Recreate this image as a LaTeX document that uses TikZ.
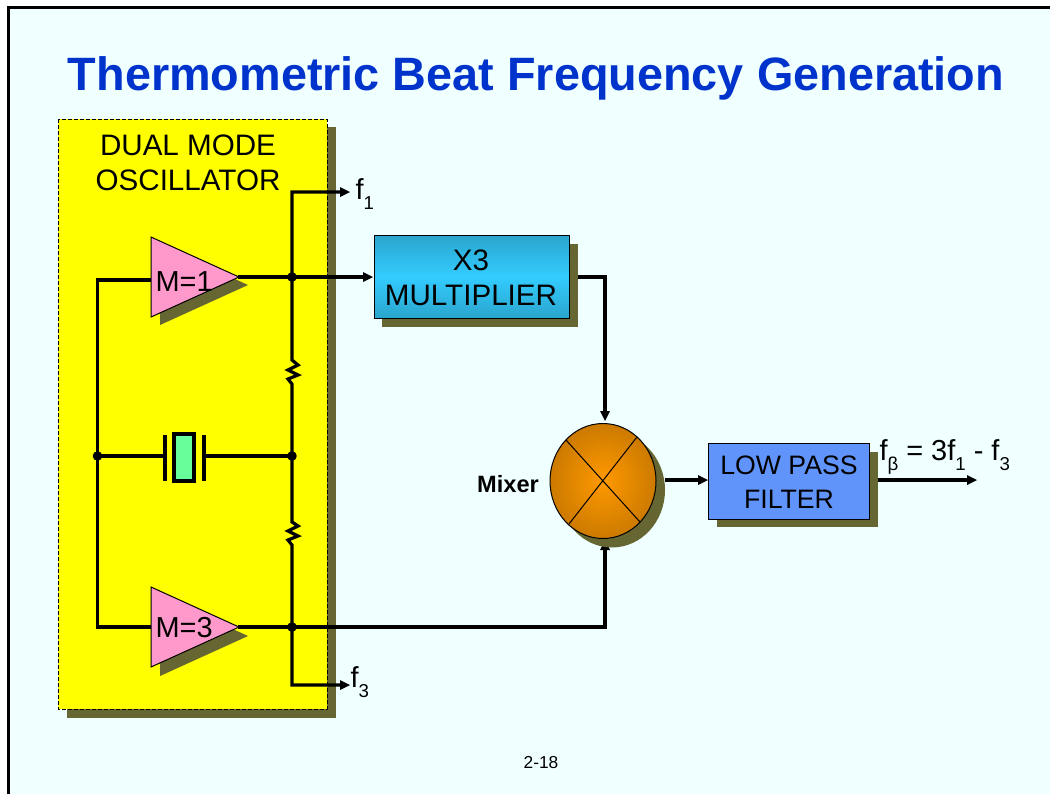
\documentclass[tikz,border=0pt]{standalone}
\usepackage{fontspec}
\setmainfont{Liberation Sans}
\usetikzlibrary{shadings}
\definecolor{pagebg}{RGB}{240,255,255}
\definecolor{titleblue}{RGB}{0,51,204}
\definecolor{shadowcol}{RGB}{102,102,51}
\definecolor{panelyellow}{RGB}{255,255,0}
\definecolor{ampink}{RGB}{255,153,204}
\definecolor{crystalgreen}{RGB}{102,255,153}
\definecolor{filterblue}{RGB}{97,148,250}
\definecolor{multedge}{RGB}{42,165,205}
\definecolor{multmid}{RGB}{51,204,255}
\definecolor{mixeredge}{RGB}{204,122,0}
\definecolor{mixermid}{RGB}{255,153,0}
\tikzset{every picture/.style={line width=0.75pt}}
\tikzset{
  wire/.style={line width=2.4pt},
  lbl/.style={inner sep=0pt,font=\fontsize{21.7}{21.7}\selectfont,text=black},
  blocklbl/.style={inner sep=0pt,font=\fontsize{22.2}{26.2}\selectfont,align=center,text=black},
  filterlbl/.style={inner sep=0pt,font=\fontsize{20}{25.5}\selectfont,align=center,text=black},
  dotnode/.style={circle,fill=black,inner sep=0pt,minimum size=7.2pt},
}
% filled arrow head, tip at #1, direction #2
\newcommand{\headat}[2]{\fill [shift={(#1)},rotate=#2] (0,0) -- (-10,-5) -- (-10,5) -- cycle;}
\newcommand{\subtxt}[1]{\raisebox{-0.62ex}{\fontsize{14}{14}\selectfont #1}}
\begin{document}
\begin{tikzpicture}[x=0.75pt,y=0.75pt,yscale=-1,xscale=1]
	\useasboundingbox (0,0) rectangle (1050,793);
	%page
	\fill [white] (0,0) rectangle (1050,793);
	\draw [fill=pagebg,line width=2.2pt] (8.5,7.5) -- (1056,7.5) -- (1056,800) -- (8.5,800) -- cycle;
	\node (title) [inner sep=0pt,text=titleblue,font=\bfseries\fontsize{35.1}{35.1}\selectfont] at (536,78) {Thermometric Beat Frequency Generation};
	\node (pagenum) [inner sep=0pt,font=\fontsize{13}{13}\selectfont] at (541,763) {2-18};

	%oscillator panel
	\fill [shadowcol] (67,127) rectangle (336,718);
	\draw [fill=panelyellow,dash pattern=on 3pt off 1.5pt,line width=0.6pt] (58,119) rectangle (327,709);
	\node (osclabel) [blocklbl,anchor=center] at (188,163) {DUAL MODE\\OSCILLATOR};

	%wires
	\coordinate (topout) at (342,192);
	\coordinate (botout) at (342,685);
	\coordinate (nodeA) at (292,277);
	\coordinate (nodeB) at (292,456);
	\coordinate (nodeC) at (292,627);
	\coordinate (nodeL) at (97.5,456);
	\draw [wire] (topout) -- (292,192) -- (292,360) -- (298,365) -- (288,370) -- (298,375) -- (288,379) -- (292,384) -- (292,522) -- (298,526) -- (288,531) -- (298,536) -- (288,540) -- (292,545) -- (292,685) -- (botout);
	\draw [wire] (151,280) -- (97.5,280) -- (97.5,627) -- (151,627);
	\draw [wire] (nodeL) -- (164,456);
	\draw [wire] (204,456) -- (nodeB);
	\draw [wire] (238,277) -- (365,277);
	\draw [wire] (238,627) -- (605,627) -- (605,548);
	\draw [wire] (568,277) -- (605,277) -- (605,414);
	\draw [wire] (665,480) -- (700,480);
	\draw [wire] (869,480) -- (970,480);

	%arrow heads
	\headat{350,192}{0}
	\headat{350,685}{0}
	\headat{373,277}{0}
	\headat{605,421}{90}
	\headat{605,540}{-90}
	\headat{708,480}{0}
	\headat{977,480}{0}

	%amplifiers
	\fill [shadowcol] (160,245) -- (248,285) -- (160,325) -- cycle;
	\draw [fill=ampink,line width=0.75pt] (151,237) -- (239,277) -- (151,317) -- cycle;
	\node (amp1) [lbl,anchor=west] at (155,282) {M=1};
	\fill [shadowcol] (160,596) -- (248,636) -- (160,676) -- cycle;
	\draw [fill=ampink,line width=0.75pt] (151,587) -- (239,627) -- (151,667) -- cycle;
	\node (amp3) [lbl,anchor=west] at (155,628) {M=3};

	%crystal
	\draw [line width=2.4pt] (165,435) -- (165,481);
	\draw [line width=2.4pt] (204,435) -- (204,481);
	\draw [fill=crystalgreen,line width=2.4pt] (174,434) rectangle (194,481);

	%junction dots
	\node (dotA) [dotnode] at (nodeA) {};
	\node (dotB) [dotnode] at (nodeB) {};
	\node (dotC) [dotnode] at (nodeC) {};
	\node (dotL) [dotnode] at (nodeL) {};

	%multiplier
	\fill [shadowcol] (382,244) rectangle (578,327);
	\shade [top color=multedge,bottom color=multedge,middle color=multmid] (374,235) rectangle (569,318);
	\draw (374,235) rectangle (569,318);
	\node (mult) [blocklbl] at (471,278) {X3\\MULTIPLIER};

	%mixer
	\fill [shadowcol] (612,490) ellipse (53 and 57.5);
	\shade [inner color=mixermid,outer color=mixeredge] (603,481) ellipse (53 and 57.5);
	\draw (603,481) ellipse (53 and 57.5);
	\draw (566,440) -- (640,522);
	\draw (637,437) -- (569,524);
	\node (mixlabel) [inner sep=0pt,font=\bfseries\fontsize{17.7}{17.7}\selectfont] at (508,484) {Mixer};

	%filter
	\fill [shadowcol] (717,452) rectangle (878,527);
	\draw [fill=filterblue] (708,443) rectangle (869,519);
	\node (filter) [filterlbl] at (789,482) {LOW PASS\\FILTER};

	%signal labels
	\node (sigf1) [lbl,anchor=west] at (355,194) {f\subtxt{1}};
	\node (sigf3) [lbl,anchor=west] at (350,682) {f\subtxt{3}};
	\node (sigout) [lbl,anchor=west] at (879,457) {f\subtxt{β} = 3f\subtxt{1} - f\subtxt{3}};
\end{tikzpicture}
\end{document}
